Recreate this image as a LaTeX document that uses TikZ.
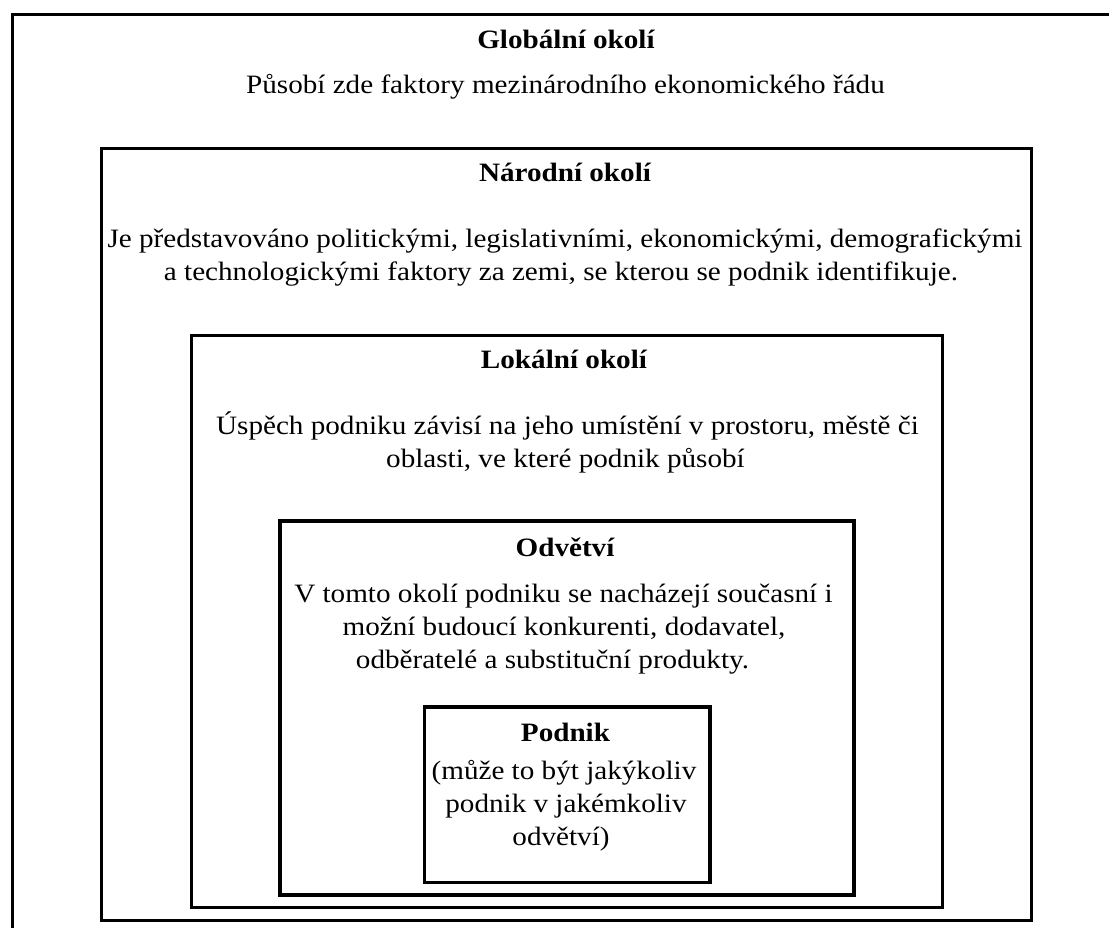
\documentclass[tikz,border=0pt]{standalone}
\usepackage{fontspec}
\setmainfont{Liberation Serif}[FakeStretch=1.1]
\tikzset{
  frame/.style={draw=black, line width=#1, inner sep=0pt, anchor=north west},
  frame/.default=3pt,
  txt/.style={anchor=base, inner sep=0pt, font=\fontsize{26.5}{33}\selectfont},
  head/.style={txt, font=\fontsize{26.5}{33}\selectfont\bfseries}
}
\begin{document}
\begin{tikzpicture}[x=1pt, y=-1pt]
  \useasboundingbox (0,0) rectangle (1109,927);
  \clip (0,0) rectangle (1109,927);

  % nested frames (outer one runs past the page edge)
  \node[frame=3pt, minimum width=1120pt, minimum height=930pt] (global) at (10.5,12.5) {};
  \node[frame=3pt, minimum width=930.5pt, minimum height=771.7pt] (narodni) at (99.5,147) {};
  \node[frame=3.4pt, minimum width=751.5pt, minimum height=571.7pt] (lokalni) at (189.5,334) {};
  \node[frame=4pt, minimum width=573.7pt, minimum height=373.5pt] (odvetvi) at (278,519) {};
  \node[frame=3.6pt, minimum width=285.8pt, minimum height=175.2pt] (podnik) at (422.5,705.3) {};

  % global environment
  \node[head] (gH) at (566,48) {Globální okolí};
  \node[txt] (gT) at (565.5,93) {Působí zde faktory mezinárodního ekonomického řádu};

  % national environment
  \node[head] (nH) at (565,181) {Národní okolí};
  \node[txt] (nT1) at (565,247) {Je představováno politickými, legislativními, ekonomickými, demografickými};
  \node[txt] (nT2) at (561,280) {a technologickými faktory za zemi, se kterou se podnik identifikuje.};

  % local environment
  \node[head] (lH) at (564,368) {Lokální okolí};
  \node[txt] (lT1) at (567.5,434) {Úspěch podniku závisí na jeho umístění v prostoru, městě či};
  \node[txt] (lT2) at (565.5,467) {oblasti, ve které podnik působí};

  % industry
  \node[head] (oH) at (565,556) {Odvětví};
  \node[txt] (oT1) at (563.5,602) {V tomto okolí podniku se nacházejí současní i};
  \node[txt] (oT2) at (564,635) {možní budoucí konkurenti, dodavatel,};
  \node[txt] (oT3) at (552.5,668) {odběratelé a substituční produkty.};

  % the firm
  \node[head] (pH) at (565.5,741) {Podnik};
  \node[txt] (pT1) at (564,779) {(může to být jakýkoliv};
  \node[txt] (pT2) at (566,812) {podnik v jakémkoliv};
  \node[txt] (pT3) at (561,845) {odvětví)};
\end{tikzpicture}
\end{document}
